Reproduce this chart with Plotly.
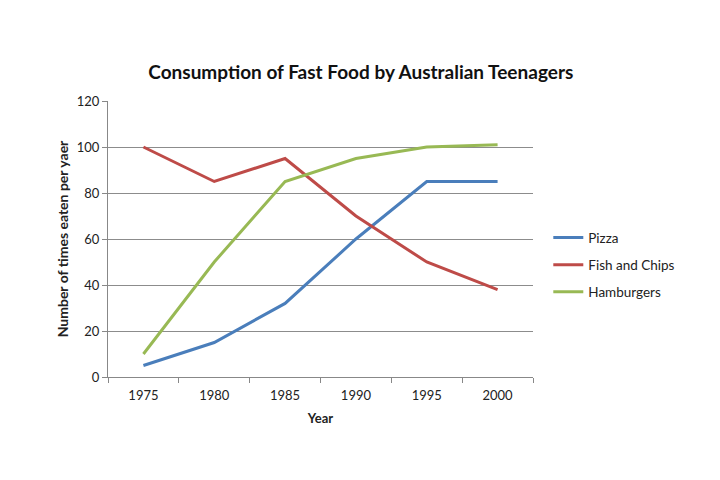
import plotly.graph_objects as go

# Chart data
years = ['1975', '1980', '1985', '1990', '1995', '2000']
pizza = [5, 15, 32, 60, 85, 85]
fish_chips = [100, 85, 95, 70, 50, 38]
hamburgers = [10, 50, 85, 95, 100, 101]

series_names = ['Pizza', 'Fish and Chips', 'Hamburgers']
series_values = [pizza, fish_chips, hamburgers]
colors = ['#4a7ebb', '#be4b48', '#98b954']
legend_ids = ['legend', 'legend2', 'legend3']
legend_y = [0.505, 0.406, 0.308]

fig = go.Figure()
for name, vals, col, lg in zip(series_names, series_values, colors, legend_ids):
    fig.add_trace(go.Scatter(x=years, y=vals, name=name, mode='lines',
                             line=dict(color=col, width=3), legend=lg,
                             showlegend=True))

font_family = 'Lato, Open Sans, sans-serif'
layout_legends = {}
for lg, ly in zip(legend_ids, legend_y):
    layout_legends[lg] = dict(x=1.036, y=ly, xanchor='left', yanchor='middle',
                              bgcolor='rgba(0,0,0,0)', itemwidth=30,
                              font=dict(family=font_family, size=13.5, color='#222'))

fig.update_layout(
    width=720, height=480,
    showlegend=True,
    margin=dict(l=100, r=195, t=93, b=111),
    paper_bgcolor='white', plot_bgcolor='white',
    title=dict(text='<b>Consumption of Fast Food by Australian Teenagers</b>',
               x=0.49, xref='container', xanchor='center', y=0.866, yanchor='middle',
               font=dict(family=font_family, size=19, color='#111')),
    xaxis=dict(type='category', range=[-0.5, 5.5], tickson='boundaries',
               ticks='outside', ticklen=5, tickcolor='#888', ticklabelstandoff=6,
               showline=True, linecolor='#888', linewidth=1, showgrid=False,
               tickfont=dict(family=font_family, size=13, color='#222'),
               title=dict(text='<b>Year</b>', standoff=12,
                          font=dict(family=font_family, size=13, color='#222'))),
    yaxis=dict(range=[0, 120], dtick=20, ticks='outside', ticklen=5, tickcolor='#888',
               showline=True, linecolor='#888', linewidth=1,
               showgrid=True, gridcolor='#8c8c8c', gridwidth=1, zeroline=False,
               tickfont=dict(family=font_family, size=13, color='#222'),
               title=dict(text='<b>Number of times eaten per yaer</b>', standoff=4,
                          font=dict(family=font_family, size=14, color='#222'))),
    **layout_legends,
)

fig.write_html('out.html')
